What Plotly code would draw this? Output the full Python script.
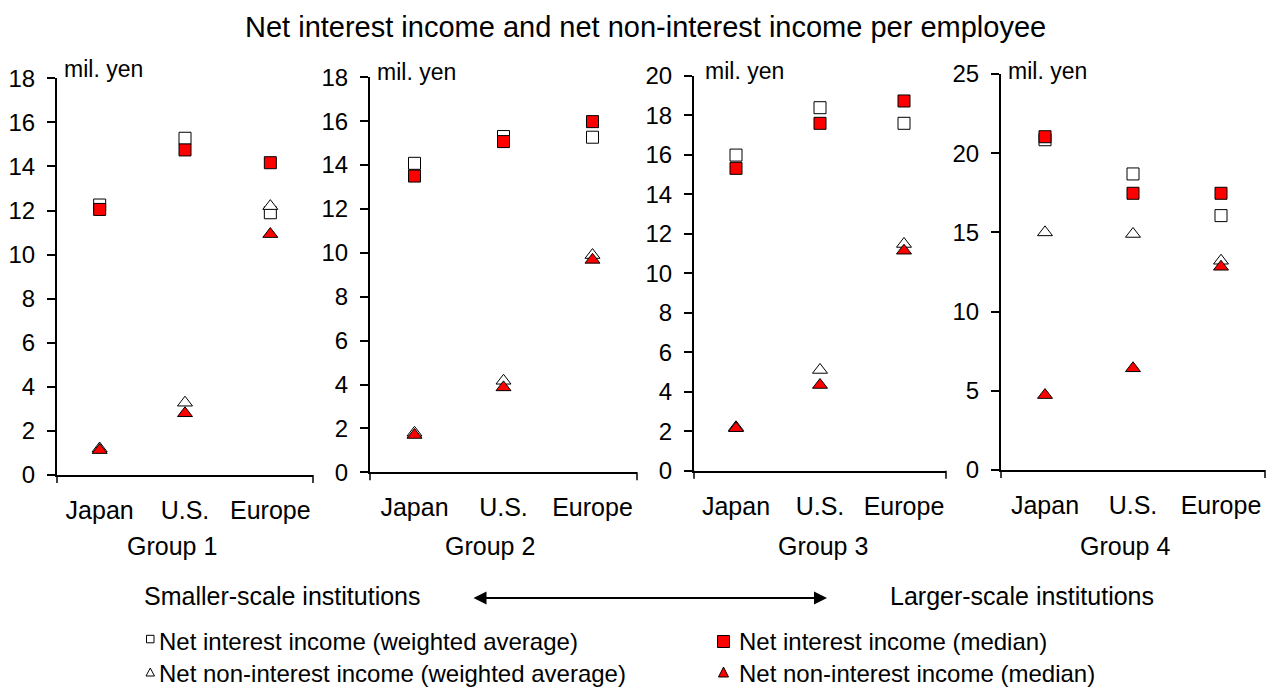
import plotly.graph_objects as go

W, H = 1271, 688

# ---------------- data (mil. yen per employee) ----------------
categories = ["Japan", "U.S.", "Europe"]
groups = ["Group 1", "Group 2", "Group 3", "Group 4"]

nii_weighted_avg = [
    [12.25, 15.28, 11.90],
    [14.08, 15.30, 15.27],
    [15.98, 18.38, 17.59],
    [20.85, 18.69, 16.06],
]
nii_median = [
    [12.05, 14.75, 14.17],
    [13.50, 15.07, 15.98],
    [15.31, 17.59, 18.72],
    [21.04, 17.47, 17.47],
]
nonii_weighted_avg = [
    [1.20, 3.28, 12.20],
    [1.80, 4.17, 9.90],
    [2.20, 5.10, 11.48],
    [15.00, 14.90, 13.21],
]
nonii_median = [
    [1.13, 2.80, 10.93],
    [1.70, 3.87, 9.68],
    [2.15, 4.34, 11.14],
    [4.73, 6.42, 12.83],
]
y_max = [18, 18, 20, 25]
y_step = [2, 2, 2, 5]

legend_labels = [
    "Net interest income (weighted average)",
    "Net interest income (median)",
    "Net non-interest income (weighted average)",
    "Net non-interest income (median)",
]

# ---------------- layout geometry (pixels) ----------------
panel_x = [(57, 313), (370, 637), (694, 946), (1001, 1265)]
panel_y = [(78.3, 475), (77.3, 472.3), (75.7, 470.7), (74, 470)]
unit_xy = [(62, 69), (375, 72), (703, 70.7), (1006, 70.7)]
group_x = [172, 490, 823, 1125]

FONT = "Liberation Sans, Arial, Helvetica, sans-serif"
RED = "#FF0000"


def px(x):
    return x / W


def py(y):
    return 1 - y / H


fig = go.Figure()

series = [
    (nii_weighted_avg, "square", "white", 12, legend_labels[0]),
    (nii_median, "square", RED, 12, legend_labels[1]),
    (nonii_weighted_avg, "triangle-up", "white", 13, legend_labels[2]),
    (nonii_median, "triangle-up", RED, 13, legend_labels[3]),
]

for g in range(4):
    sfx = "" if g == 0 else str(g + 1)
    for vals, sym, col, size, name in series:
        fig.add_trace(go.Scatter(
            x=categories, y=vals[g], mode="markers", name=name,
            xaxis="x" + sfx, yaxis="y" + sfx, showlegend=False,
            cliponaxis=False,
            marker=dict(symbol=sym, color=col, size=size,
                        line=dict(color="black", width=1)),
            hovertemplate=name + "<br>%{x}: %{y}<extra></extra>",
        ))

layout = dict(
    template="none",
    width=W, height=H,
    margin=dict(l=0, r=0, t=0, b=0, pad=0, autoexpand=False),
    paper_bgcolor="white", plot_bgcolor="white",
    font=dict(family=FONT, color="black", size=24),
    showlegend=False,
)

shapes = []
annotations = []

for g in range(4):
    sfx = "" if g == 0 else str(g + 1)
    x0, x1 = panel_x[g]
    ytop, ybot = panel_y[g]
    layout["xaxis" + sfx] = dict(
        domain=[px(x0), px(x1)], anchor="y" + sfx, automargin=False,
        type="category", categoryorder="array", categoryarray=categories,
        range=[-0.5, 2.5], showgrid=False, zeroline=False,
        showline=True, linecolor="black", linewidth=2,
        ticks="", tickfont=dict(size=25, family=FONT, color="black"),
        ticklabelstandoff=12, fixedrange=True,
    )
    layout["yaxis" + sfx] = dict(
        domain=[py(ybot), py(ytop)], anchor="x" + sfx, automargin=False,
        range=[0, y_max[g]], dtick=y_step[g], tick0=0,
        showgrid=False, zeroline=False,
        showline=True, linecolor="black", linewidth=2,
        ticks="outside", ticklen=8, tickwidth=1.5, tickcolor="black",
        tickfont=dict(size=24, family=FONT, color="black"), ticklabelstandoff=7,
        fixedrange=True,
    )
    # end tick marks on the category axis
    for xe in (x0, x1):
        shapes.append(dict(type="line", xref="paper", yref="paper",
                           x0=px(xe), x1=px(xe), y0=py(ybot), y1=py(ybot + 8),
                           line=dict(color="black", width=1.5)))
    ux, uy = unit_xy[g]
    annotations.append(dict(text="mil. yen", xref="paper", yref="paper",
                            x=px(ux), y=py(uy), xanchor="left", yanchor="middle",
                            showarrow=False, font=dict(size=23, family=FONT)))
    annotations.append(dict(text=groups[g], xref="paper", yref="paper",
                            x=px(group_x[g]), y=py(546), xanchor="center",
                            yanchor="middle", showarrow=False,
                            font=dict(size=25, family=FONT)))

# title
annotations.append(dict(
    text="Net interest income and net non-interest income per employee",
    xref="paper", yref="paper", x=px(645.5), y=py(27),
    xanchor="center", yanchor="middle", showarrow=False,
    font=dict(size=29, family=FONT)))

# scale arrow
annotations.append(dict(text="Smaller-scale institutions", xref="paper", yref="paper",
                        x=px(141.7), y=py(596), xanchor="left", yanchor="middle",
                        showarrow=False, font=dict(size=25, family=FONT)))
annotations.append(dict(text="Larger-scale institutions", xref="paper", yref="paper",
                        x=px(887.7), y=py(596), xanchor="left", yanchor="middle",
                        showarrow=False, font=dict(size=25, family=FONT)))
annotations.append(dict(text="", xref="paper", yref="paper",
                        x=px(827), y=py(598), ax=-355, ay=0,
                        showarrow=True, arrowside="end+start",
                        arrowhead=2, startarrowhead=2, arrowsize=1.3,
                        startarrowsize=1.3, arrowwidth=2, arrowcolor="black"))

# legend (keys drawn as shapes, labels as text)
leg_text_x = [157, 737, 157, 737]
leg_row_y = [641, 641, 673, 673]
for i, lab in enumerate(legend_labels):
    annotations.append(dict(text=lab, xref="paper", yref="paper",
                            x=px(leg_text_x[i]), y=py(leg_row_y[i]),
                            xanchor="left", yanchor="middle", showarrow=False,
                            font=dict(size=24, family=FONT)))

# small hollow square key
shapes.append(dict(type="rect", xref="paper", yref="paper",
                   x0=px(146.5), x1=px(154), y0=py(642.8), y1=py(635.3),
                   line=dict(color="black", width=1), fillcolor="white"))
# red square key
shapes.append(dict(type="rect", xref="paper", yref="paper",
                   x0=px(717.5), x1=px(729.5), y0=py(647.5), y1=py(635.5),
                   line=dict(color="black", width=1), fillcolor=RED))
# small hollow triangle key
shapes.append(dict(type="path", xref="paper", yref="paper",
                   path=f"M {px(146)} {py(676)} L {px(154.5)} {py(676)} L {px(150.25)} {py(668)} Z",
                   line=dict(color="black", width=1), fillcolor="white"))
# red triangle key
shapes.append(dict(type="path", xref="paper", yref="paper",
                   path=f"M {px(718.5)} {py(677)} L {px(728.5)} {py(677)} L {px(723.5)} {py(667)} Z",
                   line=dict(color="black", width=1), fillcolor=RED))

layout["shapes"] = shapes
layout["annotations"] = annotations
fig.update_layout(**layout)

fig.write_html(
    "out.html",
    config={"displayModeBar": False},
    post_script="document.body.style.margin='0px';document.body.style.overflow='hidden';",
)
